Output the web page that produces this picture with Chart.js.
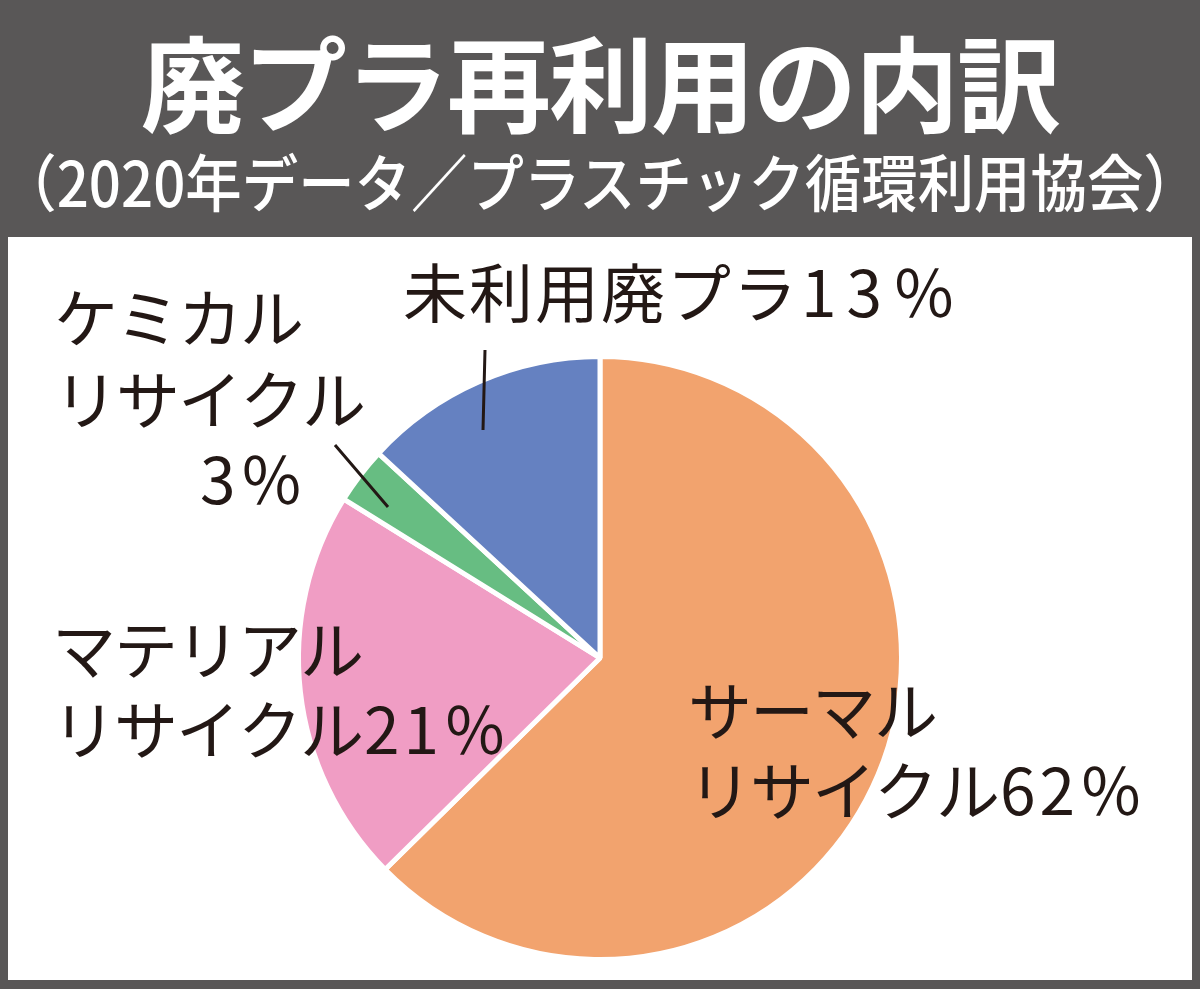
<!DOCTYPE html>
<html lang="ja">
<head>
<meta charset="utf-8">
<script src="https://cdn.jsdelivr.net/npm/chart.js@4"></script>
<style>
    html, body {
        margin: 0;
        padding: 0;
        background: #595757;
        width: 1200px;
        height: 989px;
        overflow: hidden;
        font-family: "Noto Sans CJK JP", "Noto Sans", sans-serif;
    }
    .title {
        position: absolute;
        left: 0;
        top: 15px;
        width: 1200px;
        text-align: center;
        color: #fff;
        font-size: 104px;
        font-weight: 700;
        line-height: 130px;
        letter-spacing: -2px;
    }
    .subtitle {
        position: absolute;
        left: -300px;
        top: 140px;
        width: 1800px;
        text-align: center;
        color: #fff;
        font-size: 62px;
        font-weight: 500;
        line-height: 80px;
        transform: scaleX(0.91);
        white-space: nowrap;
    }
    .panel {
        position: absolute;
        left: 8px;
        top: 237px;
        width: 1184px;
        height: 743px;
        background: #fff;
    }
</style>
</head>
<body>
<div class="title">廃プラ再利用の内訳</div>
<div class="subtitle">（2020年データ／プラスチック循環利用協会）</div>
<div class="panel">
    <canvas id="recycleChart" width="1184" height="743"></canvas>
</div>
<script>
const categories = ['サーマルリサイクル', 'マテリアルリサイクル', 'ケミカルリサイクル', '未利用廃プラ'];
const shares = [62, 21, 3, 13];
const sliceColours = ['#F2A36E', '#F09DC4', '#67BD82', '#6581C1'];

// label text lines per slice
const labelLines = [
    ['サーマル', 'リサイクル62％'],
    ['マテリアル', 'リサイクル21％'],
    ['ケミカル', 'リサイクル', '3％'],
    ['未利用廃プラ13％']
];

const inkColour = '#231815';

// kana part and number part get their own spacing, like the print
function drawLabel(ctx, text, x, y, headGap = -2, tailGap = 4) {
    const idx = text.search(/[0-9]/);
    const head = idx < 0 ? text : text.slice(0, idx);
    const tail = idx < 0 ? '' : text.slice(idx);
    ctx.letterSpacing = headGap + 'px';
    ctx.fillText(head, x, y);
    const w = ctx.measureText(head).width;
    if (tail) {
        ctx.letterSpacing = tailGap + 'px';
        ctx.fillText(tail, x + w + 2, y);
    }
    ctx.letterSpacing = '0px';
}

const calloutPlugin = {
    id: 'callouts',
    afterDatasetsDraw(chart) {
        const ctx = chart.ctx;
        ctx.save();
        ctx.fillStyle = inkColour;
        ctx.strokeStyle = inkColour;
        ctx.lineWidth = 3;
        ctx.font = '400 64px "Noto Sans CJK JP"';
        ctx.textBaseline = 'middle';
        ctx.textAlign = 'left';

        // leader lines
        ctx.beginPath();
        ctx.moveTo(477, 113);
        ctx.lineTo(475, 193);
        ctx.moveTo(327, 208);
        ctx.lineTo(380, 270);
        ctx.stroke();

        drawLabel(ctx, labelLines[0][0], 680, 474);
        drawLabel(ctx, labelLines[0][1], 680, 554);
        drawLabel(ctx, labelLines[1][0], 44, 413);
        drawLabel(ctx, labelLines[1][1], 44, 493);
        drawLabel(ctx, labelLines[2][0], 46, 81);
        drawLabel(ctx, labelLines[2][1], 46, 163);
        drawLabel(ctx, labelLines[2][2], 190, 243);
        drawLabel(ctx, labelLines[3][0], 395, 56, 2, 10);
        ctx.restore();
    }
};

new Chart(document.getElementById('recycleChart').getContext('2d'), {
    type: 'pie',
    data: {
        labels: categories,
        datasets: [{
            data: shares,
            backgroundColor: sliceColours,
            borderColor: '#ffffff',
            borderWidth: 5
        }]
    },
    options: {
        responsive: false,
        animation: false,
        layout: {
            padding: { top: 117, bottom: 18, left: 288, right: 288 }
        },
        plugins: {
            legend: { display: false },
            tooltip: { enabled: false },
            title: { display: false }
        }
    },
    plugins: [calloutPlugin]
});
</script>
</body>
</html>
